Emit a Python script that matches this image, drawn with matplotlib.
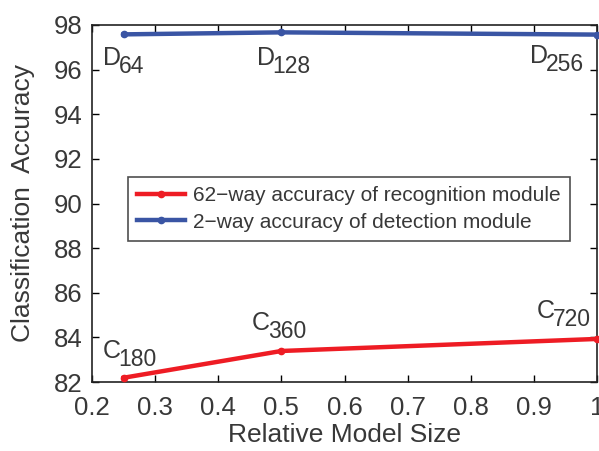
import matplotlib
matplotlib.use("Agg")
import matplotlib.pyplot as plt

plt.rcParams['font.family'] = ['Liberation Sans', 'DejaVu Sans']

model_size = [0.25, 0.5, 1.0]
recognition_acc = [82.19, 83.39, 83.93]
detection_acc = [97.58, 97.67, 97.57]
recognition_sizes = ['180', '360', '720']
detection_sizes = ['64', '128', '256']
x_ticks = [0.2, 0.3, 0.4, 0.5, 0.6, 0.7, 0.8, 0.9, 1.0]
x_tick_labels = ['0.2', '0.3', '0.4', '0.5', '0.6', '0.7', '0.8', '0.9', '1']
y_ticks = [82, 84, 86, 88, 90, 92, 94, 96, 98]

red = '#ee1c24'
blue = '#3a55a4'
text_color = '#383838'

fig = plt.figure(figsize=(5.99, 4.51), dpi=100)
ax = fig.add_axes([92/599, 1-382/451, (597-92)/599, (382-25)/451])

ax.plot(model_size, recognition_acc, '-', color=red, lw=3.2, marker='o', ms=4.5,
        label='62\u2212way accuracy of recognition module', clip_on=False, zorder=3)
ax.plot(model_size, detection_acc, '-', color=blue, lw=3.2, marker='o', ms=4.5,
        label='2\u2212way accuracy of detection module', clip_on=False, zorder=3)

ax.set_xlim(0.2, 1.0)
ax.set_ylim(82, 98)
ax.set_xticks(x_ticks)
ax.set_xticklabels(x_tick_labels)
ax.set_yticks(y_ticks)
ax.tick_params(direction='in', top=True, right=True, length=5, width=1,
               labelsize=18.5, labelcolor=text_color)
ax.tick_params(axis='x', pad=10)
ax.tick_params(axis='y', pad=7)
for s in ax.spines.values():
    s.set_linewidth(1.2)
    s.set_color('#222222')

ax.set_xlabel('Relative Model Size', fontsize=19, color=text_color, labelpad=2)
ax.set_ylabel('Classification  Accuracy', fontsize=19, color=text_color, labelpad=13)


def point_label(x, y, base, sub, dx, dy):
    """Letter with a large, lowered subscript, offset (points) from a data point."""
    ax.annotate(base, (x, y), xytext=(dx, dy), textcoords='offset points',
                fontsize=18, color=text_color, ha='left', va='baseline',
                annotation_clip=False)
    ax.annotate(sub, (x, y), xytext=(dx + 11.3, dy - 5.8), textcoords='offset points',
                fontsize=16.5, color=text_color, ha='left', va='baseline',
                annotation_clip=False)


det_offsets = [(-14.8, -22.1), (-17.6, -23.5), (-48.2, -20.4)]
for x, y, s, (dx, dy) in zip(model_size, detection_acc, detection_sizes, det_offsets):
    point_label(x, y, 'D', s, dx, dy)

rec_offsets = [(-14.8, 14.3), (-21.2, 15.1), (-43.2, 15.1)]
for x, y, s, (dx, dy) in zip(model_size, recognition_acc, recognition_sizes, rec_offsets):
    point_label(x, y, 'C', s, dx, dy)

leg = ax.legend(loc='upper left', bbox_to_anchor=(36/505, (382-177)/357),
                fontsize=15, frameon=True, fancybox=False, edgecolor='#222222',
                handlelength=2.3, borderpad=0.45, labelspacing=0.35,
                handletextpad=0.35, borderaxespad=0)
leg.get_frame().set_linewidth(1.2)
for t in leg.get_texts():
    t.set_color(text_color)

fig.savefig('out.png', dpi=100)
